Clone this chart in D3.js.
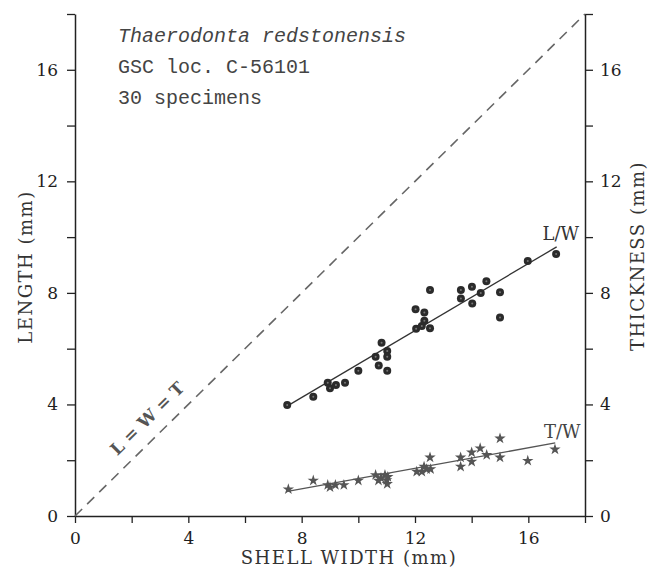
<!DOCTYPE html>
<html>
<head>
<meta charset="utf-8">
<script src="https://cdn.jsdelivr.net/npm/d3@7"></script>
<style>
    body { margin: 0; background: #fff; }
    svg { display: block; }
</style>
</head>
<body>
<svg id="chart"></svg>
<script>
// shell width (mm) of each specimen, with its length and thickness
const lwWidth = [7.49, 8.41, 8.92, 9.0, 9.21, 9.53, 10.0, 10.61, 10.72, 10.82, 11.02, 11.02, 11.02, 12.02, 12.04,
    12.24, 12.33, 12.33, 12.53, 12.53, 13.62, 13.62, 14.01, 14.02, 14.32, 14.52, 15.0, 15.0, 15.98, 16.98];
const lwLength = [3.98, 4.28, 4.78, 4.58, 4.70, 4.78, 5.21, 5.71, 5.40, 6.21, 5.92, 5.71, 5.21, 7.41, 6.71,
    6.81, 7.30, 7.00, 8.10, 6.73, 8.10, 7.80, 8.22, 7.62, 8.00, 8.42, 8.02, 7.12, 9.14, 9.39];

const twWidth = [7.53, 8.41, 8.92, 9.0, 9.19, 9.49, 10.0, 10.61, 10.71, 10.8, 10.94, 11.0, 11.02, 11.04, 12.06,
    12.24, 12.32, 12.41, 12.53, 12.55, 13.61, 13.61, 14.0, 14.0, 14.3, 14.53, 15.0, 15.0, 15.98, 16.94];
const twThick = [0.96, 1.27, 1.11, 1.03, 1.11, 1.11, 1.27, 1.47, 1.27, 1.36, 1.47, 1.29, 1.15, 1.40, 1.59,
    1.59, 1.77, 1.68, 2.10, 1.68, 2.10, 1.77, 2.28, 1.95, 2.43, 2.19, 2.78, 2.10, 1.98, 2.39];

// regression lines (end points)
const lwFit = [[7.5, 3.95], [17, 9.65]];
const twFit = [[7.5, 0.88], [16.95, 2.62]];
const equalLine = [[0, 0], [18, 18]];

const tickValues = [0, 2, 4, 6, 8, 10, 12, 14, 16, 18];
const labelledTicks = [0, 4, 8, 12, 16];
const infoLines = ["Thaerodonta redstonensis", "GSC loc. C-56101", "30 specimens"];

const width = 663, height = 568;
const svg = d3.select("#chart").attr("width", width).attr("height", height);

const x = d3.scaleLinear().domain([0, 18]).range([75, 585]);
const y = d3.scaleLinear().domain([0, 18]).range([516, 14]);

const serif = "'DejaVu Serif', serif";
const fmt = d => labelledTicks.includes(d) ? d : "";

function styleAxis(g) {
    g.selectAll("path").style("stroke", "#222").style("stroke-width", 1.5);
    g.selectAll("line").style("stroke", "#222").style("stroke-width", 1.3);
    g.selectAll("text").style("font-family", serif).style("font-size", "17px").style("fill", "#1e1e1e");
}

svg.append("g")
    .attr("transform", `translate(0,${y(0)})`)
    .call(d3.axisBottom(x).tickValues(tickValues).tickFormat(fmt).tickSize(7).tickSizeOuter(0).tickPadding(9))
    .call(styleAxis);

svg.append("g")
    .attr("transform", `translate(${x(0)},0)`)
    .call(d3.axisLeft(y).tickValues(tickValues).tickFormat(fmt).tickSize(8).tickSizeOuter(0).tickPadding(9))
    .call(styleAxis);

svg.append("g")
    .attr("transform", `translate(${x(18)},0)`)
    .call(d3.axisRight(y).tickValues(tickValues).tickFormat(fmt).tickSize(8).tickSizeOuter(0).tickPadding(7))
    .call(styleAxis);

// L = W = T line
const line = d3.line().x(d => x(d[0])).y(d => y(d[1]));
svg.append("path")
    .attr("d", line(equalLine))
    .style("fill", "none")
    .style("stroke", "#666")
    .style("stroke-width", 1.6)
    .style("stroke-dasharray", "10,7");

const angle = Math.atan2(y(18) - y(0), x(18) - x(0)) * 180 / Math.PI;
svg.append("text")
    .attr("transform", `translate(${x(2.55)},${y(3.5)}) rotate(${angle})`)
    .attr("text-anchor", "middle")
    .attr("dy", "0.35em")
    .style("font-family", serif)
    .style("font-size", "17px")
    .style("font-weight", "bold")
    .style("fill", "#555")
    .text("L = W = T");

// fitted lines
svg.append("path").attr("d", line(lwFit))
    .style("fill", "none").style("stroke", "#333").style("stroke-width", 1.3);
svg.append("path").attr("d", line(twFit))
    .style("fill", "none").style("stroke", "#555").style("stroke-width", 1.3);

// length points
const lw = svg.append("g").selectAll("g")
    .data(d3.zip(lwWidth, lwLength))
    .enter().append("g")
    .attr("transform", d => `translate(${x(d[0])},${y(d[1])})`);
lw.append("circle").attr("r", 4).style("fill", "#2b2b2b");
lw.append("circle").attr("r", 1).style("fill", "#777");

// thickness points
svg.append("g").selectAll("path")
    .data(d3.zip(twWidth, twThick))
    .enter().append("path")
    .attr("d", d3.symbol(d3.symbolStar, 40))
    .attr("transform", d => `translate(${x(d[0])},${y(d[1])})`)
    .style("fill", "#555");

// series labels
svg.append("text").attr("x", x(16.5)).attr("y", y(9.9))
    .style("font-family", serif).style("font-size", "18px").style("fill", "#333")
    .text("L/W");
svg.append("text").attr("x", x(16.55)).attr("y", y(2.8))
    .style("font-family", serif).style("font-size", "18px").style("fill", "#444")
    .text("T/W");

// info block
svg.append("g").selectAll("text")
    .data(infoLines)
    .enter().append("text")
    .attr("x", 118)
    .attr("y", (d, i) => 42 + i * 31)
    .style("font-family", "'Liberation Mono', monospace")
    .style("font-size", "20px")
    .style("font-style", (d, i) => i === 0 ? "italic" : "normal")
    .style("fill", "#444")
    .text(d => d);

// axis titles
const title = sel => sel.attr("text-anchor", "middle")
    .style("font-family", serif).style("font-size", "18px").style("letter-spacing", "1.5px").style("fill", "#333");

svg.append("text")
    .attr("x", 349).attr("y", 564)
    .call(title)
    .text("SHELL WIDTH (mm)");

svg.append("text")
    .attr("transform", `translate(32,267) rotate(-90)`)
    .call(title)
    .text("LENGTH (mm)");

svg.append("text")
    .attr("transform", `translate(644,256) rotate(-90)`)
    .call(title)
    .text("THICKNESS (mm)");
</script>
</body>
</html>
